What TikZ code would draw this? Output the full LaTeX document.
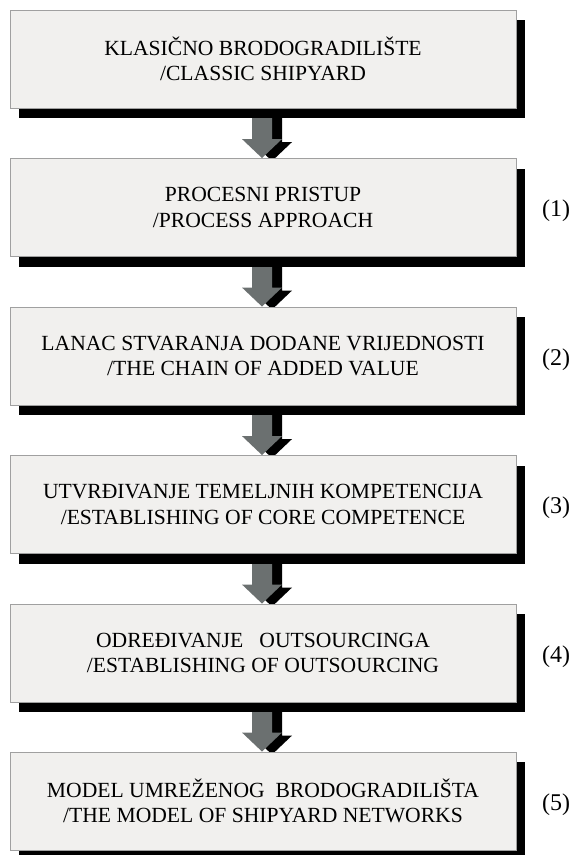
\documentclass[tikz,border=0pt]{standalone}
\usepackage{fontspec}
\setmainfont{Liberation Serif}
\usetikzlibrary{calc,shadows,backgrounds}

\definecolor{boxfill}{HTML}{F1F0EE}
\definecolor{boxline}{HTML}{A0A0A0}
\definecolor{arrowgray}{HTML}{6B7070}

\tikzset{
  stagebox/.style={rectangle, draw=boxline, line width=0.9pt, fill=boxfill,
    minimum width=506pt, minimum height=98pt, inner sep=0pt, align=center,
    font=\fontsize{21.6}{25.5}\selectfont,
    drop shadow={shadow xshift=9pt, shadow yshift=-10pt, fill=black, opacity=1}},
  stagelabel/.style={font=\fontsize{24}{28}\selectfont, inner sep=0pt}
}

% block arrow from the bottom of one box to the top of the next;
% #3,#4 shift the whole arrow (used for the black shadow copy)
\newcommand\flowarrow[5]{%
  \fill[#5] ($(#1.south)+(-10+#3,#4)$) -- ($(#2.north)+(-10+#3,-19+#4)$)
    -- ($(#2.north)+(-20+#3,-19+#4)$) -- ($(#2.north)+(#3,#4)$)
    -- ($(#2.north)+(20+#3,-19+#4)$) -- ($(#2.north)+(10+#3,-19+#4)$)
    -- ($(#1.south)+(10+#3,#4)$) -- cycle;}

\begin{document}
\begin{tikzpicture}[x=1pt,y=-1pt]
\useasboundingbox (0,0) rectangle (574,855);

\node[stagebox] (s0) at (263,59)    {KLASIČNO BRODOGRADILIŠTE\\/CLASSIC SHIPYARD};
\node[stagebox] (s1) at (263,207.5) {PROCESNI PRISTUP\\/PROCESS APPROACH};
\node[stagebox] (s2) at (263,356)   {LANAC STVARANJA DODANE VRIJEDNOSTI\\/THE CHAIN OF ADDED VALUE};
\node[stagebox] (s3) at (263,504.5) {UTVRĐIVANJE TEMELJNIH KOMPETENCIJA\\/ESTABLISHING OF CORE COMPETENCE};
\node[stagebox] (s4) at (263,653)   {ODREĐIVANJE\ \ \ OUTSOURCINGA\\/ESTABLISHING OF OUTSOURCING};
\node[stagebox] (s5) at (263,801)   {MODEL UMREŽENOG\ \ BRODOGRADILIŠTA\\/THE MODEL OF SHIPYARD NETWORKS};

\node[stagelabel] (n1) at (556,211)   {(1)};
\node[stagelabel] (n2) at (556,359.5) {(2)};
\node[stagelabel] (n3) at (556,508)   {(3)};
\node[stagelabel] (n4) at (556,656.5) {(4)};
\node[stagelabel] (n5) at (556,805)   {(5)};

\begin{pgfonlayer}{background}
  \foreach \a/\b in {s0/s1, s1/s2, s2/s3, s3/s4, s4/s5} {
    \flowarrow{\a}{\b}{9}{3}{black}
    \flowarrow{\a}{\b}{-1}{0}{arrowgray}
  }
\end{pgfonlayer}
\end{tikzpicture}
\end{document}
